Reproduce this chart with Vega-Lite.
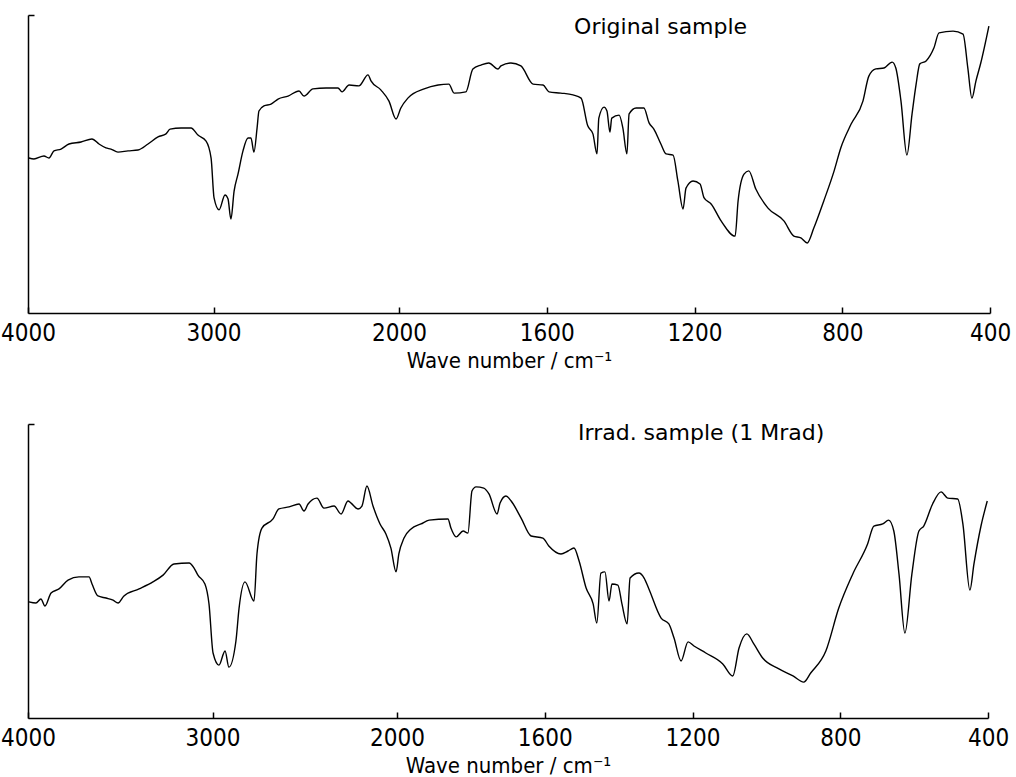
{
  "$schema": "https://vega.github.io/schema/vega-lite/v6.json",
  "padding": {"left": 0, "top": 14, "right": 5, "bottom": 2},
  "background": "white",
  "spacing": 111,
  "bounds": "flush",
  "config": {
    "view": {"stroke": null},
    "axis": {
      "grid": false,
      "domainColor": "black",
      "domainWidth": 1.5,
      "tickColor": "black",
      "tickWidth": 1.5,
      "labelColor": "black",
      "labelFont": "DejaVu Sans Condensed",
      "labelFontSize": 24,
      "titleColor": "black",
      "titleFont": "DejaVu Sans Condensed",
      "titleFontSize": 22,
      "titleFontWeight": "normal"
    }
  },
  "datasets": {
    "orig": [
      {"wn":3995,"t":52.0},{"wn":3968,"t":51.7},{"wn":3914,"t":52.7},{"wn":3887,"t":52.0},{"wn":3860,"t":54.4},{"wn":3822,"t":55.0},{"wn":3779,"t":56.7},{"wn":3714,"t":57.4},{"wn":3655,"t":58.4},{"wn":3617,"t":56.7},{"wn":3580,"t":55.4},{"wn":3553,"t":55.0},{"wn":3515,"t":54.0},{"wn":3461,"t":54.4},{"wn":3407,"t":54.7},{"wn":3353,"t":56.7},{"wn":3299,"t":59.1},{"wn":3256,"t":60.1},{"wn":3234,"t":61.7},{"wn":3175,"t":62.1},{"wn":3121,"t":62.1},{"wn":3084,"t":59.7},{"wn":3040,"t":57.7},{"wn":3013,"t":52.0},{"wn":2997,"t":38.6},{"wn":2970,"t":34.6},{"wn":2938,"t":39.6},{"wn":2922,"t":38.3},{"wn":2906,"t":31.5},{"wn":2889,"t":40.9},{"wn":2868,"t":46.6},{"wn":2841,"t":54.4},{"wn":2814,"t":58.7},{"wn":2798,"t":58.7},{"wn":2782,"t":54.0},{"wn":2765,"t":62.1},{"wn":2755,"t":67.8},{"wn":2728,"t":69.5},{"wn":2690,"t":70.1},{"wn":2652,"t":71.8},{"wn":2598,"t":72.8},{"wn":2539,"t":74.5},{"wn":2512,"t":72.8},{"wn":2464,"t":75.2},{"wn":2393,"t":75.5},{"wn":2329,"t":75.5},{"wn":2307,"t":74.2},{"wn":2269,"t":76.5},{"wn":2216,"t":76.2},{"wn":2167,"t":79.9},{"wn":2151,"t":77.9},{"wn":2097,"t":74.8},{"wn":2054,"t":71.1},{"wn":2016,"t":65.1},{"wn":1995,"t":68.8},{"wn":1976,"t":72.1},{"wn":1932,"t":75.2},{"wn":1894,"t":76.5},{"wn":1865,"t":76.8},{"wn":1851,"t":73.8},{"wn":1819,"t":74.2},{"wn":1800,"t":81.9},{"wn":1778,"t":83.2},{"wn":1757,"t":83.9},{"wn":1732,"t":81.9},{"wn":1724,"t":82.9},{"wn":1697,"t":83.9},{"wn":1670,"t":82.9},{"wn":1637,"t":76.8},{"wn":1610,"t":76.5},{"wn":1594,"t":74.2},{"wn":1562,"t":73.8},{"wn":1529,"t":73.2},{"wn":1507,"t":72.1},{"wn":1489,"t":62.8},{"wn":1475,"t":60.1},{"wn":1464,"t":53.4},{"wn":1459,"t":65.4},{"wn":1445,"t":69.1},{"wn":1437,"t":67.8},{"wn":1429,"t":60.7},{"wn":1424,"t":65.4},{"wn":1404,"t":66.4},{"wn":1394,"t":62.1},{"wn":1383,"t":53.4},{"wn":1377,"t":66.8},{"wn":1358,"t":68.8},{"wn":1337,"t":68.8},{"wn":1323,"t":63.8},{"wn":1310,"t":61.7},{"wn":1291,"t":56.7},{"wn":1277,"t":53.4},{"wn":1258,"t":53.0},{"wn":1245,"t":44.3},{"wn":1231,"t":34.9},{"wn":1223,"t":41.9},{"wn":1204,"t":44.3},{"wn":1185,"t":43.3},{"wn":1174,"t":38.6},{"wn":1155,"t":36.6},{"wn":1128,"t":30.9},{"wn":1090,"t":25.8},{"wn":1082,"t":37.6},{"wn":1066,"t":46.6},{"wn":1053,"t":47.7},{"wn":1034,"t":41.6},{"wn":1001,"t":35.2},{"wn":958,"t":30.9},{"wn":931,"t":25.8},{"wn":912,"t":25.2},{"wn":895,"t":23.5},{"wn":877,"t":28.5},{"wn":850,"t":37.6},{"wn":822,"t":47.7},{"wn":804,"t":55.4},{"wn":776,"t":63.4},{"wn":744,"t":71.1},{"wn":728,"t":79.5},{"wn":709,"t":81.9},{"wn":687,"t":82.2},{"wn":665,"t":84.2},{"wn":655,"t":82.2},{"wn":641,"t":71.1},{"wn":625,"t":53.0},{"wn":611,"t":66.8},{"wn":600,"t":76.8},{"wn":590,"t":83.6},{"wn":573,"t":84.6},{"wn":552,"t":88.9},{"wn":538,"t":94.0},{"wn":500,"t":94.6},{"wn":473,"t":93.6},{"wn":460,"t":82.2},{"wn":449,"t":72.1},{"wn":438,"t":77.9},{"wn":425,"t":83.9},{"wn":403,"t":96.3}
    ],
    "irrad": [
      {"wn":3995,"t":39.5},{"wn":3957,"t":39.1},{"wn":3930,"t":40.5},{"wn":3908,"t":38.1},{"wn":3875,"t":42.5},{"wn":3832,"t":43.9},{"wn":3783,"t":46.9},{"wn":3724,"t":48.0},{"wn":3669,"t":48.0},{"wn":3653,"t":45.6},{"wn":3621,"t":41.5},{"wn":3577,"t":40.8},{"wn":3539,"t":40.1},{"wn":3512,"t":39.1},{"wn":3480,"t":41.5},{"wn":3398,"t":43.9},{"wn":3323,"t":46.3},{"wn":3268,"t":48.6},{"wn":3209,"t":52.4},{"wn":3127,"t":52.7},{"wn":3100,"t":51.0},{"wn":3079,"t":48.6},{"wn":3041,"t":45.6},{"wn":3019,"t":38.8},{"wn":2997,"t":22.1},{"wn":2965,"t":18.0},{"wn":2932,"t":22.8},{"wn":2911,"t":17.3},{"wn":2873,"t":26.2},{"wn":2856,"t":37.4},{"wn":2824,"t":46.3},{"wn":2775,"t":39.8},{"wn":2759,"t":55.8},{"wn":2732,"t":64.6},{"wn":2672,"t":67.7},{"wn":2640,"t":71.1},{"wn":2585,"t":71.8},{"wn":2531,"t":72.8},{"wn":2504,"t":70.4},{"wn":2482,"t":72.8},{"wn":2434,"t":74.8},{"wn":2396,"t":71.4},{"wn":2341,"t":72.1},{"wn":2303,"t":69.4},{"wn":2266,"t":73.8},{"wn":2249,"t":73.1},{"wn":2211,"t":71.1},{"wn":2190,"t":72.1},{"wn":2163,"t":78.9},{"wn":2130,"t":72.1},{"wn":2092,"t":66.0},{"wn":2060,"t":62.6},{"wn":2033,"t":57.8},{"wn":2005,"t":49.7},{"wn":1995,"t":55.8},{"wn":1981,"t":61.2},{"wn":1962,"t":64.3},{"wn":1935,"t":66.0},{"wn":1913,"t":67.3},{"wn":1862,"t":67.7},{"wn":1854,"t":64.6},{"wn":1840,"t":61.6},{"wn":1821,"t":63.6},{"wn":1808,"t":62.9},{"wn":1797,"t":77.2},{"wn":1786,"t":78.6},{"wn":1765,"t":78.2},{"wn":1751,"t":76.2},{"wn":1729,"t":69.4},{"wn":1721,"t":73.1},{"wn":1705,"t":75.5},{"wn":1691,"t":73.8},{"wn":1664,"t":68.0},{"wn":1637,"t":61.9},{"wn":1605,"t":61.2},{"wn":1589,"t":58.5},{"wn":1556,"t":55.8},{"wn":1537,"t":56.8},{"wn":1521,"t":57.8},{"wn":1507,"t":53.4},{"wn":1488,"t":44.2},{"wn":1469,"t":38.8},{"wn":1459,"t":32.3},{"wn":1448,"t":49.3},{"wn":1437,"t":49.7},{"wn":1426,"t":39.8},{"wn":1418,"t":45.6},{"wn":1402,"t":45.2},{"wn":1391,"t":38.8},{"wn":1377,"t":32.0},{"wn":1369,"t":47.6},{"wn":1345,"t":49.3},{"wn":1331,"t":47.6},{"wn":1318,"t":43.9},{"wn":1285,"t":34.0},{"wn":1264,"t":32.0},{"wn":1250,"t":27.2},{"wn":1231,"t":19.4},{"wn":1212,"t":25.9},{"wn":1196,"t":24.5},{"wn":1164,"t":22.1},{"wn":1118,"t":18.4},{"wn":1091,"t":14.3},{"wn":1074,"t":23.8},{"wn":1053,"t":28.6},{"wn":1034,"t":25.2},{"wn":1010,"t":20.4},{"wn":966,"t":16.7},{"wn":928,"t":14.3},{"wn":899,"t":12.2},{"wn":880,"t":15.3},{"wn":839,"t":22.8},{"wn":804,"t":37.4},{"wn":766,"t":49.0},{"wn":726,"t":59.2},{"wn":709,"t":65.3},{"wn":685,"t":66.0},{"wn":669,"t":67.3},{"wn":655,"t":63.6},{"wn":641,"t":49.0},{"wn":625,"t":28.9},{"wn":606,"t":49.0},{"wn":587,"t":63.6},{"wn":574,"t":65.3},{"wn":550,"t":72.8},{"wn":527,"t":76.9},{"wn":509,"t":74.8},{"wn":482,"t":74.5},{"wn":468,"t":66.0},{"wn":449,"t":43.5},{"wn":438,"t":52.4},{"wn":419,"t":65.3},{"wn":402,"t":73.8}
    ],
    "labels1": [{"wn": 1526, "t": 96, "label": "Original  sample"}],
    "labels2": [{"wn": 1510, "t": 97, "label": "Irrad. sample (1 Mrad)"}]
  },
  "vconcat": [
    {
      "width": 962,
      "height": 298,
      "layer": [
        {
          "data": {"name": "orig"},
          "mark": {"type": "line", "color": "black", "strokeWidth": 1.4, "interpolate": "monotone"},
          "encoding": {
            "x": {"field": "wn", "type": "quantitative",
                  "scale": {"domain": [4000, 2000, 400], "range": [0, 371, 962], "zero": false, "nice": false},
                  "axis": {"values": [4000, 3000, 2000, 1600, 1200, 800, 400], "format": "d", "tickSize": -6, "labelPadding": 14, "labelFlush": false, "labelOverlap": false, "labelBound": false, "title": "Wave number / cm⁻¹", "titlePadding": 5}},
            "y": {"field": "t", "type": "quantitative",
                  "scale": {"domain": [0, 100]},
                  "axis": {"values": [100], "tickSize": -6, "labels": false, "title": null}}
          }
        },
        {
          "data": {"name": "labels1"},
          "mark": {"type": "text", "align": "left", "baseline": "middle", "font": "DejaVu Sans", "fontSize": 22, "color": "black"},
          "encoding": {
            "x": {"field": "wn", "type": "quantitative"},
            "y": {"field": "t", "type": "quantitative"},
            "text": {"field": "label"}
          }
        }
      ]
    },
    {
      "width": 960,
      "height": 294,
      "layer": [
        {
          "data": {"name": "irrad"},
          "mark": {"type": "line", "color": "black", "strokeWidth": 1.4, "interpolate": "monotone"},
          "encoding": {
            "x": {"field": "wn", "type": "quantitative",
                  "scale": {"domain": [4000, 2000, 400], "range": [0, 369, 960], "zero": false, "nice": false},
                  "axis": {"values": [4000, 3000, 2000, 1600, 1200, 800, 400], "format": "d", "tickSize": -6, "labelPadding": 14, "labelFlush": false, "labelOverlap": false, "labelBound": false, "title": "Wave number / cm⁻¹", "titlePadding": 5}},
            "y": {"field": "t", "type": "quantitative",
                  "scale": {"domain": [0, 100]},
                  "axis": {"values": [100], "tickSize": -6, "labels": false, "title": null}}
          }
        },
        {
          "data": {"name": "labels2"},
          "mark": {"type": "text", "align": "left", "baseline": "middle", "font": "DejaVu Sans", "fontSize": 22, "color": "black"},
          "encoding": {
            "x": {"field": "wn", "type": "quantitative"},
            "y": {"field": "t", "type": "quantitative"},
            "text": {"field": "label"}
          }
        }
      ]
    }
  ]
}
